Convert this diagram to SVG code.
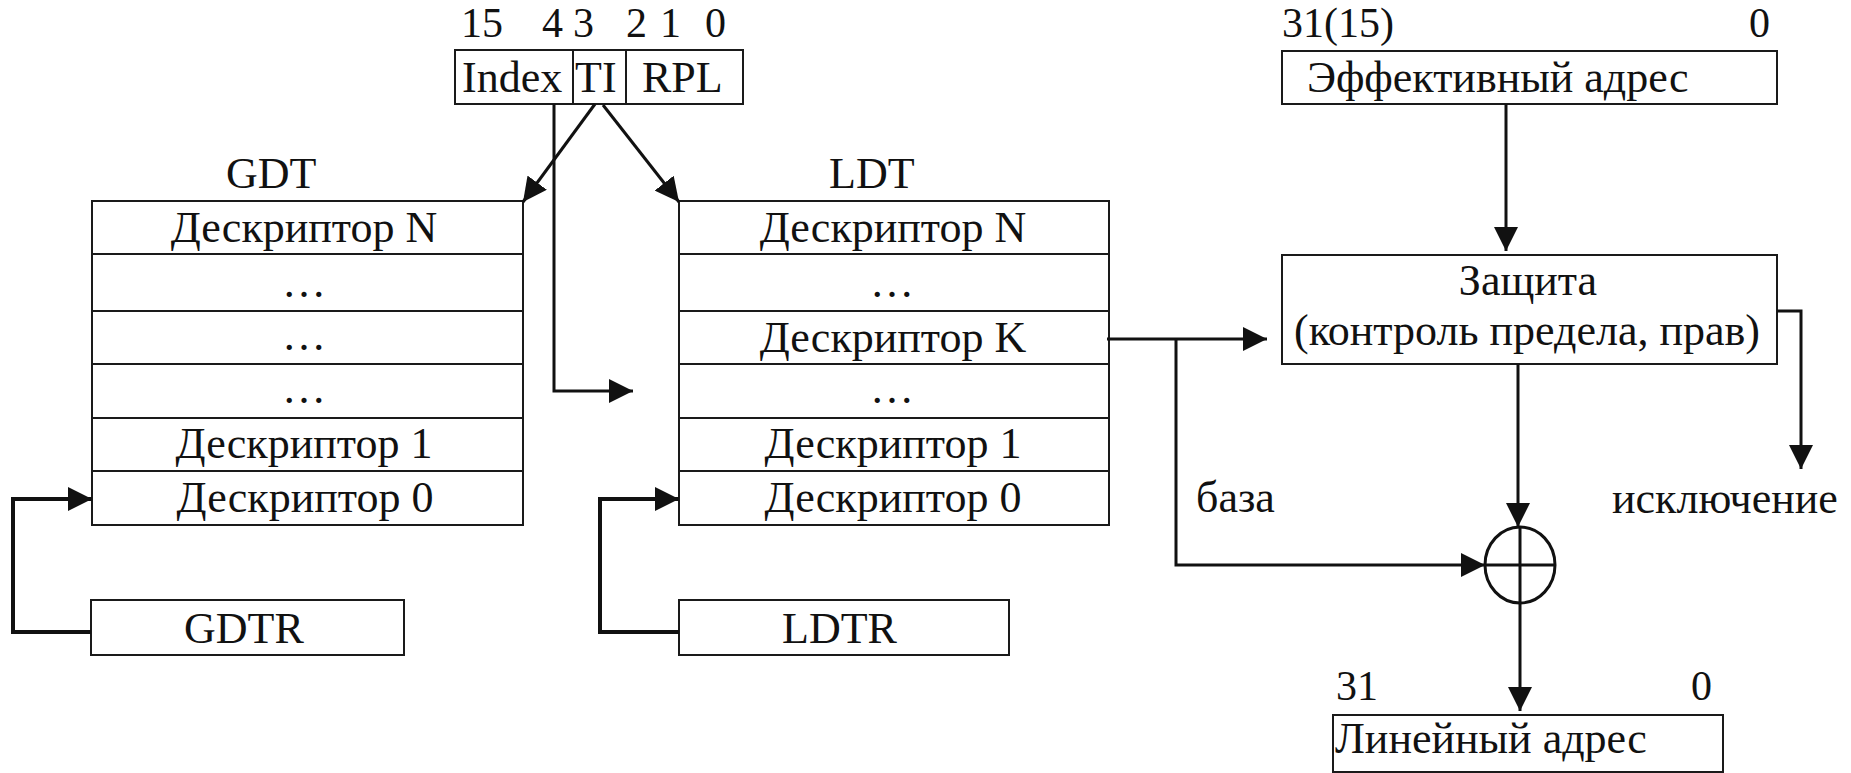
<svg xmlns="http://www.w3.org/2000/svg" width="1851" height="773" viewBox="0 0 1851 773">
<style>
  .box { fill: #fff; stroke: #1a1a1a; stroke-width: 2; }
  .ln { stroke: #1a1a1a; stroke-width: 2; fill: none; }
  .t { font-family: "Liberation Serif", "Times New Roman", serif; font-size: 44px; fill: #111; }
  .n { font-family: "Liberation Serif", "Times New Roman", serif; font-size: 42px; fill: #111; }
  .c { text-anchor: middle; }
  .con { stroke: #111; stroke-width: 3; fill: none; }
  .thick { stroke-width: 4; }
</style>
<defs>
  <marker id="arr" markerUnits="userSpaceOnUse" markerWidth="24" markerHeight="24" refX="24" refY="12" orient="auto" viewBox="0 0 24 24">
    <path d="M0,0 L24,12 L0,24 Z" fill="#111"/>
  </marker>
</defs>
<rect width="1851" height="773" fill="#fff"/>

<!-- Selector -->
<g id="selector">
  <rect class="box" x="455" y="50" width="288" height="54"/>
  <line class="ln" x1="573" y1="50" x2="573" y2="104"/>
  <line class="ln" x1="626" y1="50" x2="626" y2="104"/>
  <text class="t" x="462" y="92">Index</text>
  <text class="t" x="575" y="92">TI</text>
  <text class="t" x="642" y="92">RPL</text>
  <text class="n" x="461" y="37">15</text>
  <text class="n" x="542" y="37">4</text>
  <text class="n" x="573" y="37">3</text>
  <text class="n" x="626" y="37">2</text>
  <text class="n" x="660" y="37">1</text>
  <text class="n" x="705" y="37">0</text>
</g>

<!-- GDT -->
<g id="gdt">
  <text class="t" x="226" y="188">GDT</text>
  <rect class="box" x="92" y="201" width="431" height="324"/>
  <line class="ln" x1="92" y1="254" x2="523" y2="254"/>
  <line class="ln" x1="92" y1="311" x2="523" y2="311"/>
  <line class="ln" x1="92" y1="364" x2="523" y2="364"/>
  <line class="ln" x1="92" y1="418" x2="523" y2="418"/>
  <line class="ln" x1="92" y1="471" x2="523" y2="471"/>
  <text class="t c" x="304" y="242">Дескриптор N</text>
  <text class="t c" x="304" y="297">…</text>
  <text class="t c" x="304" y="350">…</text>
  <text class="t c" x="304" y="403">…</text>
  <text class="t c" x="304" y="458">Дескриптор 1</text>
  <text class="t c" x="305" y="512">Дескриптор 0</text>
</g>

<!-- LDT -->
<g id="ldt">
  <text class="t" x="829" y="188">LDT</text>
  <rect class="box" x="679" y="201" width="430" height="324"/>
  <line class="ln" x1="679" y1="254" x2="1109" y2="254"/>
  <line class="ln" x1="679" y1="311" x2="1109" y2="311"/>
  <line class="ln" x1="679" y1="364" x2="1109" y2="364"/>
  <line class="ln" x1="679" y1="418" x2="1109" y2="418"/>
  <line class="ln" x1="679" y1="471" x2="1109" y2="471"/>
  <text class="t c" x="893" y="242">Дескриптор N</text>
  <text class="t c" x="892" y="297">…</text>
  <text class="t c" x="893" y="352">Дескриптор K</text>
  <text class="t c" x="892" y="403">…</text>
  <text class="t c" x="893" y="458">Дескриптор 1</text>
  <text class="t c" x="893" y="512">Дескриптор 0</text>
</g>

<!-- GDTR -->
<g id="gdtr">
  <rect class="box" x="91" y="600" width="313" height="55"/>
  <text class="t" x="184" y="643">GDTR</text>
</g>

<!-- LDTR -->
<g id="ldtr">
  <rect class="box" x="679" y="600" width="330" height="55"/>
  <text class="t" x="782" y="643">LDTR</text>
</g>

<!-- Effective address -->
<g id="effective">
  <text class="n" x="1282" y="37">31(15)</text>
  <text class="n" x="1749" y="37">0</text>
  <rect class="box" x="1282" y="51" width="495" height="53"/>
  <text class="t" x="1307" y="92">Эффективный адрес</text>
</g>

<!-- Protection -->
<g id="protection">
  <rect class="box" x="1282" y="255" width="495" height="109"/>
  <text class="t c" x="1528" y="295">Защита</text>
  <text class="t c" x="1527" y="345">(контроль предела, прав)</text>
</g>

<!-- Adder -->
<g id="adder">
  <ellipse class="con" cx="1520" cy="565" rx="35" ry="38" stroke-width="3"/>
  <line class="con" x1="1520" y1="527" x2="1520" y2="603"/>
  <line class="con" x1="1485" y1="565" x2="1555" y2="565"/>
</g>

<!-- Linear address -->
<g id="linear">
  <text class="n" x="1336" y="700">31</text>
  <text class="n" x="1691" y="700">0</text>
  <rect class="box" x="1333" y="715" width="390" height="57"/>
  <text class="t" x="1335" y="753">Линейный адрес</text>
</g>

<!-- Labels -->
<g id="labels">
  <text class="t" x="1196" y="512">база</text>
  <text class="t" x="1612" y="513">исключение</text>
</g>

<!-- Connectors -->
<g id="connectors">
  <line class="con" x1="595" y1="104" x2="523" y2="202" marker-end="url(#arr)"/>
  <line class="con" x1="603" y1="105" x2="679" y2="202" marker-end="url(#arr)"/>
  <polyline class="con" points="554,104 554,391 633,391" marker-end="url(#arr)"/>
  <polyline class="con thick" points="91,632 13,632 13,499 92,499" marker-end="url(#arr)"/>
  <polyline class="con thick" points="679,632 600,632 600,499 679,499" marker-end="url(#arr)"/>
  <line class="con" x1="1107" y1="339" x2="1267" y2="339" marker-end="url(#arr)"/>
  <polyline class="con" points="1176,339 1176,565 1485,565" marker-end="url(#arr)"/>
  <line class="con" x1="1506" y1="104" x2="1506" y2="251" marker-end="url(#arr)"/>
  <line class="con" x1="1518" y1="364" x2="1518" y2="527" marker-end="url(#arr)"/>
  <line class="con" x1="1520" y1="603" x2="1520" y2="711" marker-end="url(#arr)"/>
  <polyline class="con" points="1777,311 1801,311 1801,469" marker-end="url(#arr)"/>
</g>
</svg>
